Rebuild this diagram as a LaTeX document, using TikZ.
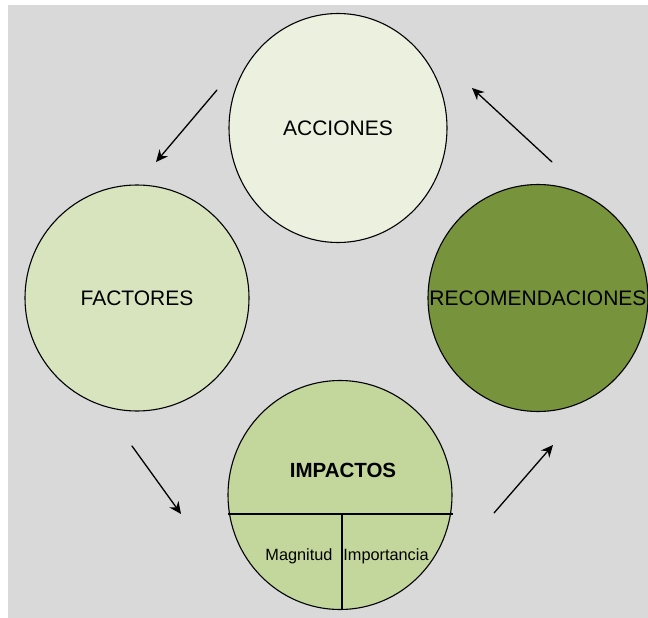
\documentclass[tikz,border=0pt]{standalone}
\usepackage{fontspec}
\setmainfont{Liberation Sans}
\usepackage{xcolor}
\usepackage{tikz}
\usetikzlibrary{arrows.meta,shapes.geometric}
\definecolor{bgGray}{HTML}{D9D9D9}
\definecolor{accFill}{HTML}{EBF1DE}
\definecolor{facFill}{HTML}{D7E4BD}
\definecolor{impFill}{HTML}{C3D69B}
\definecolor{recFill}{HTML}{77933C}
\tikzset{
  cBase/.style={ellipse,draw=black,line width=1.1pt,inner sep=0pt,
        font=\fontsize{21}{23}\selectfont},
  cAcc/.style={cBase,fill=accFill,minimum width=218pt,minimum height=229pt},
  cFac/.style={cBase,fill=facFill,minimum width=224pt,minimum height=226pt},
  cImp/.style={cBase,fill=impFill,minimum width=224pt,minimum height=229pt},
  cRec/.style={cBase,fill=recFill,minimum width=220pt,minimum height=227pt},
  cText/.style={font=\fontsize{21}{23}\selectfont,inner sep=0pt},
  cTitle/.style={font=\fontsize{20.5}{22}\selectfont\bfseries,inner sep=0pt},
  cSub/.style={font=\fontsize{16.3}{18}\selectfont,inner sep=0pt},
  flowArrow/.style={line width=1.3pt,line cap=round,
        -{Stealth[length=12pt,width=11pt]}},
  divLine/.style={line width=1.1pt},
}
\begin{document}
\begin{tikzpicture}[x=1pt,y=-1pt]
\useasboundingbox (0,0) rectangle (648,618);
\fill[bgGray] (8,5) rectangle (648,618);
% circles
\node[cAcc] (acc) at (338,128) {ACCIONES};
\node[cFac] (fac) at (137,298) {FACTORES};
\node[cRec] (rec) at (538,298) {};
\node[cText] (recT) at (rec.center) {RECOMENDACIONES};
\node[cImp] (imp) at (340,495) {};
% impactos split
\coordinate (hL) at (228,514);
\coordinate (hR) at (453,514);
\coordinate (vT) at (342,514);
\coordinate (vB) at (342,609);
\draw[divLine] (hL) -- (hR);
\draw[divLine] (vT) -- (vB);
\node[cTitle] (impT) at (343,470) {IMPACTOS};
\node[cSub]   (mag)  at (299,556) {Magnitud};
\node[cSub]   (imq)  at (386,556) {Importancia};
% arrows
\coordinate (a1s) at (217,90);  \coordinate (a1e) at (156,162);
\coordinate (a2s) at (132,446); \coordinate (a2e) at (181,514);
\coordinate (a3s) at (494,513); \coordinate (a3e) at (553,445);
\coordinate (a4s) at (552,162); \coordinate (a4e) at (472,88);
\draw[flowArrow] (a1s) -- (a1e);
\draw[flowArrow] (a2s) -- (a2e);
\draw[flowArrow] (a3s) -- (a3e);
\draw[flowArrow] (a4s) -- (a4e);
\end{tikzpicture}
\end{document}
